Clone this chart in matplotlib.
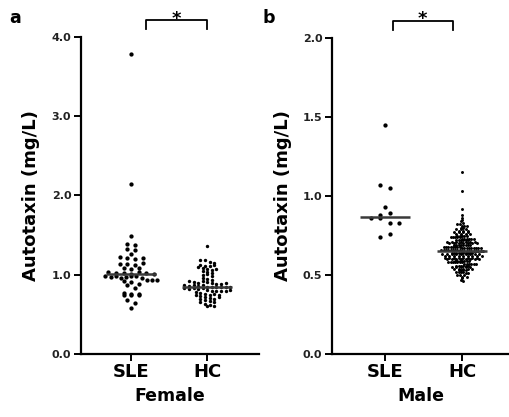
import numpy as np
import matplotlib
matplotlib.use("Agg")
import matplotlib.pyplot as plt

# ---------------- data ----------------
groups = ["SLE", "HC"]

female_sle = [3.78, 2.15, 1.49, 1.39, 1.38, 1.33, 1.31, 1.26,
              1.22, 1.21, 1.20, 1.21, 1.14, 1.13, 1.12, 1.15,
              1.08, 1.07, 1.09,
              1.03, 1.02, 1.02, 1.01, 1.03, 1.02, 1.01,
              0.98, 0.97, 0.98, 0.96, 0.97, 0.99, 0.98, 0.96,
              0.93, 0.92, 0.94, 0.93, 0.91,
              0.87, 0.88, 0.83,
              0.77, 0.76, 0.75, 0.74, 0.75, 0.76,
              0.68, 0.64, 0.58]

female_hc = [1.36, 1.19, 1.18, 1.16, 1.15,
             1.12, 1.11, 1.10, 1.11, 1.12,
             1.08, 1.07, 1.06, 1.05, 1.07,
             1.03, 1.02, 1.00, 1.01,
             0.98, 0.96, 0.95,
             0.93, 0.92, 0.91, 0.90, 0.92, 0.91,
             0.89, 0.88, 0.87, 0.86, 0.88, 0.87, 0.86, 0.89, 0.87,
             0.85, 0.84, 0.83, 0.82, 0.84, 0.85, 0.83, 0.84, 0.82, 0.83, 0.84,
             0.81, 0.80, 0.79, 0.78, 0.80, 0.79, 0.81,
             0.77, 0.76, 0.75, 0.74, 0.76, 0.75,
             0.73, 0.72, 0.71, 0.70, 0.72,
             0.69, 0.68, 0.67, 0.66,
             0.65, 0.63, 0.62, 0.61, 0.60]

male_sle = [1.45, 1.07, 1.05, 0.93, 0.88, 0.89, 0.86, 0.86,
            0.83, 0.83, 0.74, 0.76]

male_hc = [1.15, 1.03, 0.92, 0.88, 0.86,
           0.85, 0.84,
           0.83, 0.82, 0.82,
           0.81, 0.80, 0.81, 0.80, 0.81,
           0.79, 0.78, 0.79, 0.78, 0.79, 0.78,
           0.77, 0.76, 0.77, 0.76, 0.77, 0.76, 0.77, 0.76,
           0.75, 0.74, 0.75, 0.74, 0.75, 0.74, 0.75, 0.74, 0.75, 0.74,
           0.73, 0.72, 0.73, 0.72, 0.73, 0.72, 0.73, 0.72, 0.73, 0.72, 0.73, 0.72,
           0.71, 0.70, 0.71, 0.70, 0.71, 0.70, 0.71, 0.70, 0.71, 0.70, 0.71, 0.70, 0.71, 0.70,
           0.69, 0.68, 0.69, 0.68, 0.69, 0.68, 0.69, 0.68, 0.69, 0.68, 0.69, 0.68, 0.69, 0.68, 0.69, 0.68,
           0.67, 0.66, 0.67, 0.66, 0.67, 0.66, 0.67, 0.66, 0.67, 0.66, 0.67, 0.66, 0.67, 0.66, 0.67, 0.66, 0.67, 0.66,
           0.65, 0.64, 0.65, 0.64, 0.65, 0.64, 0.65, 0.64, 0.65, 0.64, 0.65, 0.64, 0.65, 0.64, 0.65, 0.64, 0.65, 0.64, 0.65, 0.64,
           0.63, 0.62, 0.63, 0.62, 0.63, 0.62, 0.63, 0.62, 0.63, 0.62, 0.63, 0.62, 0.63, 0.62, 0.63, 0.62, 0.63, 0.62,
           0.61, 0.60, 0.61, 0.60, 0.61, 0.60, 0.61, 0.60, 0.61, 0.60, 0.61, 0.60, 0.61, 0.60, 0.61, 0.60,
           0.59, 0.58, 0.59, 0.58, 0.59, 0.58, 0.59, 0.58, 0.59, 0.58, 0.59, 0.58, 0.59, 0.58,
           0.57, 0.56, 0.57, 0.56, 0.57, 0.56, 0.57, 0.56, 0.57, 0.56, 0.57, 0.56,
           0.55, 0.54, 0.55, 0.54, 0.55, 0.54, 0.55, 0.54, 0.55, 0.54,
           0.53, 0.52, 0.53, 0.52, 0.53, 0.52, 0.53, 0.52,
           0.51, 0.50, 0.51, 0.50, 0.49, 0.50,
           0.49, 0.48, 0.47,
           0.46]

female_yticks = [0.0, 1.0, 2.0, 3.0, 4.0]
male_yticks = [0.0, 0.5, 1.0, 1.5, 2.0]

# ---------------- style ----------------
plt.rcParams['font.family'] = ['DejaVu Sans']
plt.rcParams['font.weight'] = 'bold'

fig = plt.figure(figsize=(5.09, 4.17), dpi=100)
W, H = 509, 417


def px_axes(x0, x1, ytop, ybot):
    return fig.add_axes([x0 / W, (H - ybot) / H, (x1 - x0) / W, (ybot - ytop) / H])


ax1 = px_axes(81, 259, 37, 354)
ax2 = px_axes(332, 509, 38, 354)


def prism_offsets(vals, row_h, step, max_half):
    """Prism-like scatter layout: values binned into rows, spread side by side."""
    vals = np.asarray(vals, dtype=float)
    rows = np.round(vals / row_h).astype(int)
    offs = np.zeros(len(vals))
    for r in np.unique(rows):
        idx = np.where(rows == r)[0]
        n = len(idx)
        st = step
        if n > 1 and (n - 1) * st / 2 > max_half:
            st = 2 * max_half / (n - 1)
        pos = (np.arange(n) - (n - 1) / 2) * st
        offs[idx] = pos
    return offs


def draw_panel(ax, sle, hc, layouts, ylim, yticks, xlim, xlabel,
               bracket, star_y, line_half=0.33):
    for i, (vals, lay) in enumerate(zip([sle, hc], layouts)):
        row_h, step, max_half, msize = lay
        off = prism_offsets(vals, row_h, step, max_half)
        ax.scatter(i + off, vals, s=msize, color="black", linewidths=0,
                   zorder=3)
        m = np.median(vals)
        ax.plot([i - line_half, i + line_half], [m, m], color="#3a3a3a",
                lw=1.8, zorder=5, solid_capstyle="butt")
    ax.set_ylim(*ylim)
    ax.set_xlim(*xlim)
    ax.set_yticks(yticks)
    ax.set_yticklabels([f"{t:.1f}" for t in yticks], fontsize=8,
                       fontweight="bold", color="#222222")
    ax.set_xticks([0, 1])
    ax.set_xticklabels(groups, fontsize=13, fontweight="bold")
    ax.set_xlabel(xlabel, fontsize=12.5, fontweight="bold", labelpad=4)
    ax.set_ylabel("Autotaxin (mg/L)", fontsize=13, fontweight="bold",
                  labelpad=8)
    for s in ["top", "right"]:
        ax.spines[s].set_visible(False)
    for s in ["left", "bottom"]:
        ax.spines[s].set_linewidth(1.6)
    ax.tick_params(axis="both", width=1.4, length=5, direction="out")
    ax.tick_params(axis="x", pad=1.5)
    ax.tick_params(axis="y", pad=2)
    bx0, bx1, by, byl = bracket
    ax.plot([bx0, bx0, bx1, bx1], [byl, by, by, byl], color="black",
            lw=1.3, clip_on=False)
    ax.text((bx0 + bx1) / 2, star_y, "*", ha="center", va="baseline",
            fontsize=13, fontweight="bold", clip_on=False)


# layouts: (row height in data units, horizontal step, max half width, marker area)
draw_panel(ax1, female_sle, female_hc,
           [(0.06, 0.1, 0.34, 9.5), (0.045, 0.06, 0.33, 6.0)],
           (0, 4.0), female_yticks, (-0.66, 1.68), "Female",
           (0.2, 1.0, 4.21, 4.1), 4.17)
draw_panel(ax2, male_sle, male_hc,
           [(0.05, 0.12, 0.33, 9.5), (0.016, 0.03, 0.42, 4.5)],
           (0, 2.0), male_yticks, (-0.69, 1.61), "Male",
           (0.1, 0.88, 2.105, 2.05), 2.09)

fig.text(9 / W, 1 - 23 / H, "a", fontsize=12.5, fontweight="bold",
         ha="left", va="baseline")
fig.text(262 / W, 1 - 23 / H, "b", fontsize=12.5, fontweight="bold",
         ha="left", va="baseline")

fig.savefig("out.png", dpi=100, facecolor="white")
